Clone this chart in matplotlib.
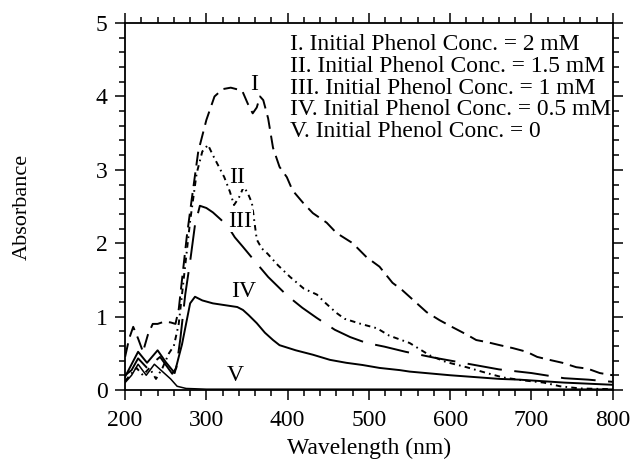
import matplotlib
matplotlib.use("Agg")
import matplotlib.pyplot as plt
from matplotlib.ticker import MultipleLocator

plt.rcParams['font.family'] = ['Liberation Serif', 'DejaVu Serif']
plt.rcParams['lines.scale_dashes'] = False

# ---- data ----
wl_I = [200, 205, 210, 216, 222, 228, 234, 240, 248, 256, 262, 266, 270, 276, 282, 290, 300, 310, 320,
        330, 344, 351, 357, 362, 366, 370, 376, 382, 390, 399, 406, 419, 431, 448, 460, 480, 497, 513,
        529, 541, 554, 571, 587, 602, 621, 632, 646, 661, 677, 694, 707, 722, 738, 755, 769, 784, 800]
abs_I = [0.45, 0.7, 0.86, 0.7, 0.52, 0.75, 0.9, 0.9, 0.93, 0.92, 0.9, 1.1, 1.5, 2.1, 2.6, 3.25, 3.68, 4.0, 4.1,
         4.12, 4.08, 3.9, 3.77, 3.85, 4.0, 3.95, 3.7, 3.3, 3.04, 2.9, 2.72, 2.55, 2.41, 2.28, 2.14, 2.0, 1.81, 1.68,
         1.46, 1.36, 1.23, 1.06, 0.95, 0.86, 0.75, 0.68, 0.65, 0.61, 0.57, 0.52, 0.45, 0.41, 0.37, 0.31, 0.29, 0.23, 0.2]

wl_II = [200, 206, 214, 222, 230, 238, 246, 254, 260, 266, 272, 280, 288, 295, 302, 308, 315, 322, 329, 334,
         340, 346, 351, 356, 362, 368, 375, 388, 403, 420, 436, 445, 460, 470, 490, 510, 525, 550, 575, 595,
         620, 645, 665, 690, 715, 735, 760, 800]
abs_II = [0.12, 0.2, 0.3, 0.2, 0.3, 0.15, 0.3, 0.5, 0.6, 0.9, 1.5, 2.3, 2.95, 3.25, 3.34, 3.2, 3.05, 2.9, 2.7, 2.52,
          2.62, 2.77, 2.68, 2.55, 2.05, 1.93, 1.86, 1.7, 1.54, 1.38, 1.3, 1.2, 1.05, 0.97, 0.9, 0.84, 0.74, 0.64, 0.47, 0.38,
          0.31, 0.23, 0.17, 0.13, 0.1, 0.05, 0.02, 0.01]

wl_III = [200, 208, 216, 227, 243, 258, 263, 268, 274, 280, 286, 292, 300, 308, 318, 327, 335, 345, 360, 376,
          399, 418, 436, 458, 477, 497, 519, 545, 580, 620, 660, 700, 740, 770, 800]
abs_III = [0.2, 0.27, 0.43, 0.3, 0.45, 0.22, 0.3, 0.7, 1.3, 1.75, 2.25, 2.51, 2.48, 2.42, 2.32, 2.22, 2.08, 1.95, 1.75, 1.54,
           1.29, 1.12, 0.98, 0.82, 0.72, 0.64, 0.59, 0.52, 0.44, 0.36, 0.28, 0.23, 0.16, 0.14, 0.11]

wl_IV = [200, 208, 216, 227, 240, 250, 261, 266, 270, 275, 280, 286, 295, 308, 320, 338, 345, 352, 362, 372,
         382, 390, 410, 431, 452, 472, 492, 513, 538, 550, 600, 661, 685, 740, 800]
abs_IV = [0.18, 0.35, 0.52, 0.37, 0.54, 0.38, 0.23, 0.45, 0.62, 0.9, 1.18, 1.27, 1.22, 1.18, 1.16, 1.13, 1.09, 1.02, 0.91, 0.78,
          0.68, 0.61, 0.54, 0.48, 0.41, 0.37, 0.34, 0.3, 0.27, 0.25, 0.2, 0.15, 0.14, 0.1, 0.07]

wl_V = [200, 208, 216, 226, 236, 246, 256, 264, 275, 300, 800]
abs_V = [0.1, 0.2, 0.35, 0.2, 0.35, 0.25, 0.15, 0.05, 0.02, 0.01, 0.01]

legend_lines = ["I. Initial Phenol Conc. = 2 mM",
                "II. Initial Phenol Conc. = 1.5 mM",
                "III. Initial Phenol Conc. = 1 mM",
                "IV. Initial Phenol Conc. = 0.5 mM",
                "V. Initial Phenol Conc. = 0"]
curve_labels = ["I", "II", "III", "IV", "V"]
label_pos_x = [359, 338, 342, 346, 335]
label_pos_y = [4.16, 2.89, 2.30, 1.34, 0.20]

# ---- figure ----
fig = plt.figure(figsize=(6.35, 4.62), dpi=100)
ax = fig.add_axes([0.197, 0.156, 0.768, 0.794])

lw = 1.4
ax.plot(wl_I, abs_I, color='black', lw=lw, linestyle=(0, (10, 5)))
ax.plot(wl_II, abs_II, color='black', lw=lw, linestyle=(0, (4, 3, 1.2, 3)))
ax.plot(wl_III, abs_III, color='black', lw=lw, linestyle=(0, (25, 9)))
ax.plot(wl_IV, abs_IV, color='black', lw=lw, linestyle='-')
ax.plot(wl_V, abs_V, color='black', lw=1.1, linestyle='-')

for t, x, y in zip(curve_labels, label_pos_x, label_pos_y):
    ax.text(x, y, t, fontsize=17, ha='center', va='center',
            bbox=dict(facecolor='white', edgecolor='none', pad=0.5))

y0 = 4.71
for i, t in enumerate(legend_lines):
    ax.text(403, y0 - i * 0.298, t, fontsize=16.9, ha='left', va='center')

ax.set_xlim(200, 800)
ax.set_ylim(0, 5)
ax.xaxis.set_major_locator(MultipleLocator(100))
ax.xaxis.set_minor_locator(MultipleLocator(20))
ax.yaxis.set_major_locator(MultipleLocator(1))
ax.yaxis.set_minor_locator(MultipleLocator(0.2))
ax.tick_params(which='both', direction='out', top=True, right=True, width=1.1, labelsize=17)
ax.tick_params(which='major', length=7.5)
ax.tick_params(which='minor', length=4)
ax.tick_params(axis='x', pad=7)
ax.tick_params(axis='y', pad=5)
for s in ax.spines.values():
    s.set_linewidth(1.3)

ax.set_xlabel("Wavelength (nm)", fontsize=17, labelpad=5)
ax.set_ylabel("Absorbance", fontsize=16, labelpad=46)

fig.savefig("out.png", dpi=100)
